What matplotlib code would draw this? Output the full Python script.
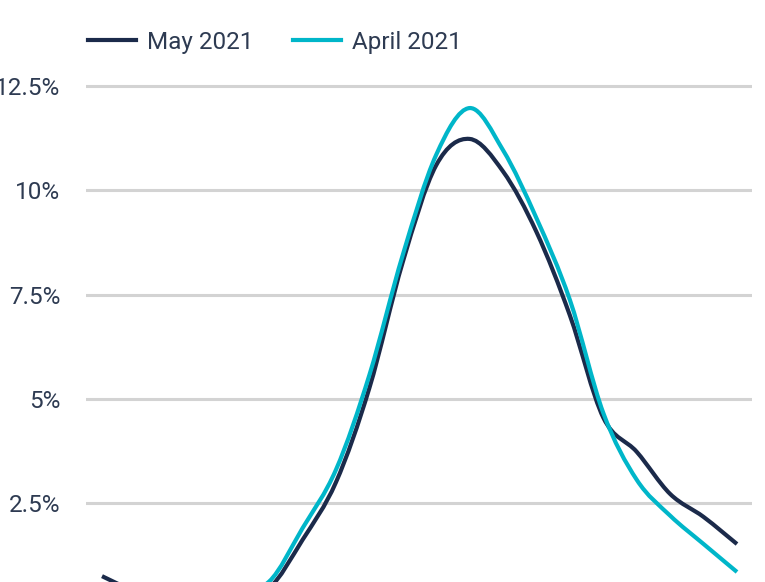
import numpy as np
import matplotlib.pyplot as plt
from matplotlib.path import Path
from matplotlib.patches import PathPatch
from matplotlib.lines import Line2D
from matplotlib.ticker import FuncFormatter

plt.rcParams['font.family'] = ['Roboto', 'DejaVu Sans']

# data (percent)
points = np.arange(20)
may_2021 = [0.75, 0.40, 0.33, 0.32, 0.36, 0.47, 1.62, 3.00, 5.26, 8.28,
            10.60, 11.23, 10.45, 9.00, 7.00, 4.55, 3.73, 2.72, 2.17, 1.52]
april_2021 = [0.35, 0.35, 0.35, 0.37, 0.42, 0.62, 1.90, 3.30, 5.57, 8.45,
              10.85, 11.97, 10.96, 9.33, 7.37, 4.66, 3.06, 2.20, 1.52, 0.85]
tick_values = [2.5, 5, 7.5, 10, 12.5]

navy = '#1b2a4a'
cyan = '#00b6c9'
text_col = '#2e3b52'


def smooth_path(x, y):
    """Catmull-Rom curve through the points, as a bezier path."""
    pts = np.column_stack([x, y]).astype(float)
    n = len(pts)
    verts = [pts[0]]
    codes = [Path.MOVETO]
    for i in range(n - 1):
        p0 = pts[max(i - 1, 0)]
        p1 = pts[i]
        p2 = pts[i + 1]
        p3 = pts[min(i + 2, n - 1)]
        verts += [p1 + (p2 - p0) / 6, p2 - (p3 - p1) / 6, p2]
        codes += [Path.CURVE4] * 3
    return Path(verts, codes)


fig = plt.figure(figsize=(7.65, 5.82), dpi=100)
ax = fig.add_axes([86 / 765, 0, (752 - 86) / 765, 1])

for vals, col in [(may_2021, navy), (april_2021, cyan)]:
    patch = PathPatch(smooth_path(points, vals), facecolor='none', edgecolor=col,
                      lw=3, capstyle='butt', zorder=3)
    ax.add_patch(patch)

ax.set_xlim(-0.479, 19.449)
ax.set_ylim(0.61, 14.56)
ax.set_yticks(tick_values)
ax.yaxis.set_major_formatter(FuncFormatter(lambda v, p: ('%g' % v) + '%'))
ax.tick_params(axis='y', length=0, pad=18.5, labelsize=17.5, labelcolor=text_col)
ax.set_xticks([])
ax.grid(axis='y', color='#d3d3d3', lw=2.2)
ax.set_axisbelow(True)
for s in ax.spines.values():
    s.set_visible(False)

handles = [Line2D([], [], color=navy, lw=3), Line2D([], [], color=cyan, lw=3)]
fig.legend(handles, ['May 2021', 'April 2021'], loc='center left',
           bbox_to_anchor=(66 / 765, 1 - 42 / 582), ncol=2, frameon=False,
           fontsize=17.5, labelcolor=text_col, handlelength=2.0,
           handletextpad=0.45, columnspacing=1.6)

fig.savefig('out.png', dpi=100)
